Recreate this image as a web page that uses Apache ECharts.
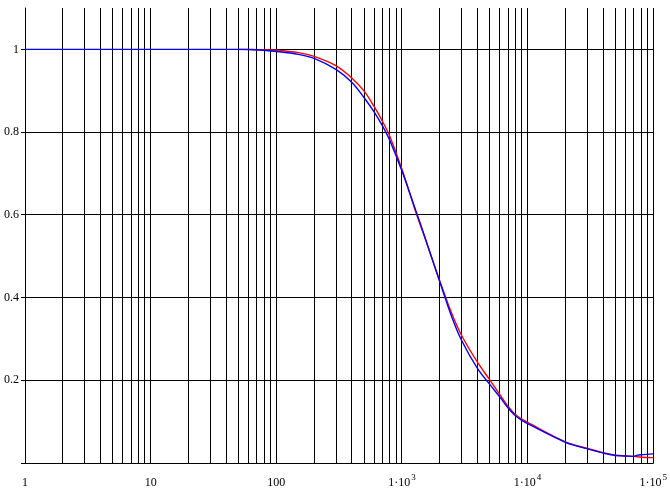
<!DOCTYPE html>
<html><head><meta charset="utf-8">
<script src="https://cdn.jsdelivr.net/npm/echarts@6/dist/echarts.min.js"></script>
<style>html,body{margin:0;padding:0;background:#fff}#c{width:670px;height:489px}</style>
</head><body><div id="c"></div>
<script>
// Red curve
const redX = [50, 60, 70, 80, 100, 150, 200, 300, 400, 500, 600, 700, 800, 1000, 1300, 1500, 2000, 2500, 3000, 4000, 5000, 6000, 7000, 8000, 9000, 10000, 20000, 30000, 40000, 50000, 60000, 70000, 80000, 100000];
const redY = [1.000, 1.000, 0.999, 0.999, 0.998, 0.992, 0.983, 0.960, 0.930, 0.899, 0.862, 0.826, 0.790, 0.710, 0.603, 0.550, 0.440, 0.360, 0.307, 0.243, 0.201, 0.166, 0.137, 0.117, 0.106, 0.098, 0.051, 0.035, 0.025, 0.019, 0.017, 0.016, 0.014, 0.013];
// Blue curve
const blueX = [1, 10, 50, 70, 100, 150, 200, 300, 400, 500, 600, 700, 800, 1000, 1300, 1500, 2000, 2500, 3000, 4000, 5000, 6000, 7000, 8000, 9000, 10000, 20000, 30000, 40000, 50000, 60000, 70000, 75000, 80000, 100000];
const blueY = [1.000, 1.000, 1.000, 0.999, 0.995, 0.988, 0.978, 0.951, 0.920, 0.883, 0.849, 0.815, 0.780, 0.706, 0.607, 0.552, 0.438, 0.352, 0.295, 0.228, 0.190, 0.160, 0.133, 0.114, 0.103, 0.095, 0.050, 0.034, 0.024, 0.018, 0.017, 0.016, 0.019, 0.020, 0.022];
// Axis settings
const yGridValues = [0, 0.2, 0.4, 0.6, 0.8, 1.0];
const xDecades = [1, 10, 100, 1000, 10000];
const xMultipliers = [1, 2, 3, 4, 5, 6, 7, 8, 9];
const xMax = 100000;
const yMax = 1.1;

const xGridValues = [];
xDecades.forEach(d => xMultipliers.forEach(m => xGridValues.push(d * m)));
xGridValues.push(xMax);

const FONT = '"Liberation Serif", "Times New Roman", serif';

const chart = echarts.init(document.getElementById('c'), null, {renderer: 'canvas'});

function crisp(v) { return Math.round(v - 0.5) + 0.5; }

chart.setOption({
  animation: false,
  backgroundColor: '#fff',
  grid: {left: 25, right: 14, top: 8, bottom: 25, containLabel: false},
  xAxis: {
    type: 'log', logBase: 10, min: 1, max: xMax, splitNumber: 5,
    axisLine: {show: true, onZero: false, lineStyle: {color: '#000', width: 1}},
    axisTick: {show: false},
    splitLine: {show: false},
    minorTick: {show: false},
    axisLabel: {
      margin: 10, showMinLabel: true, showMaxLabel: true,
      fontFamily: FONT, fontSize: 12, color: '#000',
      formatter: function (v) {
        const e = Math.round(Math.log10(v));
        if (e <= 2) return '{n|' + Math.round(Math.pow(10, e)) + '}';
        return '{n|1·10}{s|' + e + '}';
      },
      rich: {
        n: {fontFamily: FONT, fontSize: 12, color: '#000', lineHeight: 16, verticalAlign: 'bottom'},
        s: {fontFamily: FONT, fontSize: 9, color: '#000', lineHeight: 16, verticalAlign: 'top', padding: [0, 0, 0, 1]}
      }
    }
  },
  yAxis: {
    type: 'value', min: 0, max: yMax, interval: 0.2,
    axisLine: {show: true, lineStyle: {color: '#000', width: 1}},
    axisTick: {show: false},
    splitLine: {show: false},
    axisLabel: {
      margin: 6, fontFamily: FONT, fontSize: 12, color: '#000',
      formatter: function (v) {
        if (v < 0.05 || v > 1.05) return '';
        return String(Number(v.toFixed(1)));
      }
    }
  },
  series: [
    {
      type: 'custom', silent: true, clip: false, z: 1,
      data: xGridValues.map(v => [v, 0]),
      renderItem: function (params, api) {
        const v = api.value(0);
        const top = api.coord([v, yMax]);
        const bot = api.coord([v, 0]);
        const x = crisp(top[0]);
        return {type: 'line', shape: {x1: x, y1: top[1], x2: x, y2: bot[1]}, style: {stroke: '#000', lineWidth: 1}};
      }
    },
    {
      type: 'custom', silent: true, clip: false, z: 1,
      data: yGridValues.map(v => [1, v]),
      renderItem: function (params, api) {
        const v = api.value(1);
        const l = api.coord([1, v]);
        const r = api.coord([xMax, v]);
        const y = crisp(l[1]);
        return {type: 'line', shape: {x1: l[0] - 4, y1: y, x2: r[0], y2: y}, style: {stroke: '#000', lineWidth: 1}};
      }
    },
    {
      name: 'red', type: 'line', z: 3, showSymbol: false, symbol: 'none', smooth: 0.35,
      lineStyle: {color: '#ff0000', width: 1.4},
      data: redX.map((x, i) => [x, redY[i]])
    },
    {
      name: 'blue', type: 'line', z: 4, showSymbol: false, symbol: 'none', smooth: 0.35,
      lineStyle: {color: '#0000ff', width: 1.4},
      data: blueX.map((x, i) => [x, blueY[i]])
    }
  ]
});
</script>
</body></html>
